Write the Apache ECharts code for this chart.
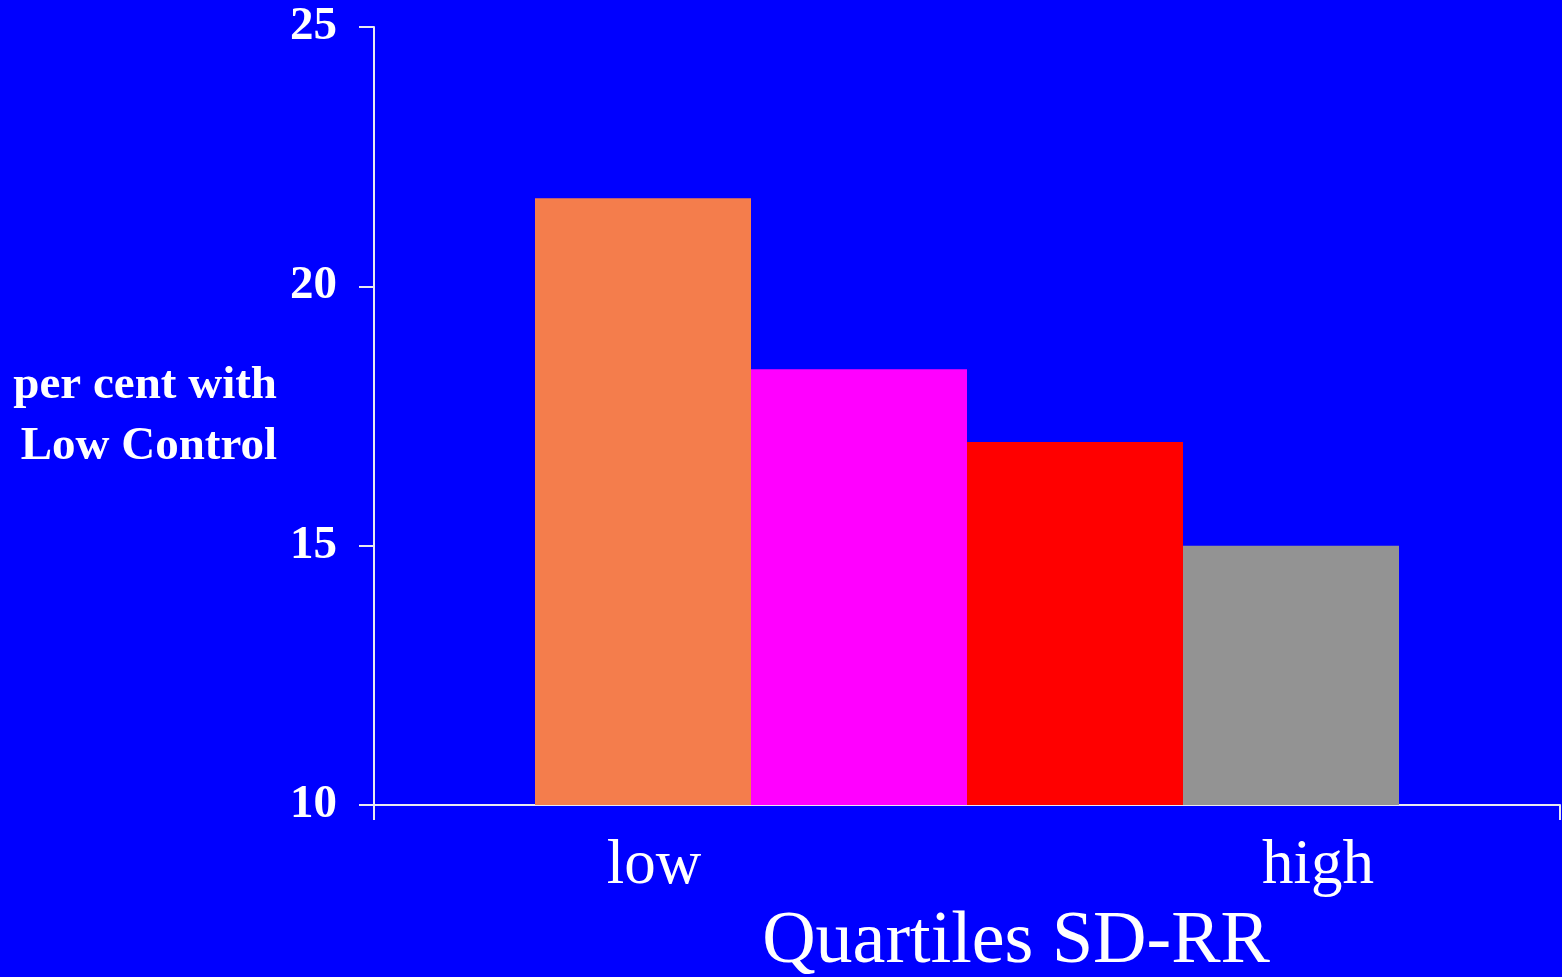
<!DOCTYPE html>
<html>
<head>
<meta charset="utf-8">
<script src="https://cdn.jsdelivr.net/npm/echarts@6/dist/echarts.min.js"></script>
<style>
html,body{margin:0;padding:0;background:#0000FF;}
#chart{width:1562px;height:977px;}
</style>
</head>
<body>
<div id="chart"></div>
<script>
var quartileNames = ['Q1', 'Q2', 'Q3', 'Q4'];
var quartileLabels = ['low', '', '', 'high'];
var quartileValues = [21.7, 18.4, 17.0, 15.0];
var barColors = ['#F47D4C', '#FF00FF', '#FF0000', '#939393'];
var yTicks = [10, 15, 20, 25];
var yAxisTitle = 'per cent with\nLow Control';
var xAxisTitle = 'Quartiles SD-RR';

var serif = "'Liberation Serif', 'Times New Roman', serif";
var chart = echarts.init(document.getElementById('chart'));
var labelShift = [11, 0, 0, 27];

var series = quartileNames.map(function (n, i) {
  return {
    name: n,
    type: 'bar',
    data: [quartileValues[i]],
    barWidth: 216,
    barGap: '0%',
    itemStyle: { color: barColors[i] },
    label: {
      show: quartileLabels[i] !== '',
      position: 'bottom',
      distance: 30,
      offset: [labelShift[i], 0],
      formatter: quartileLabels[i],
      color: '#ffffff',
      fontFamily: serif,
      fontSize: 63
    }
  };
});

chart.setOption({
  backgroundColor: '#0000FF',
  animation: false,
  grid: { left: 374, right: 2, top: 27, bottom: 172, outerBoundsMode: 'none', containLabel: false },
  xAxis: {
    type: 'category',
    data: [''],
    boundaryGap: true,
    name: xAxisTitle,
    nameLocation: 'middle',
    nameGap: 101,
    nameTextStyle: { color: '#ffffff', fontFamily: serif, fontSize: 74, padding: [0, 0, 0, 98] },
    axisLine: { lineStyle: { color: '#e8e8f0', width: 2 } },
    axisTick: { show: true, length: 15, lineStyle: { color: '#e8e8f0', width: 2 } },
    axisLabel: { show: false }
  },
  yAxis: {
    type: 'value',
    min: yTicks[0],
    max: yTicks[yTicks.length - 1],
    interval: 5,
    name: yAxisTitle,
    nameLocation: 'middle',
    nameRotate: 0,
    nameGap: 97,
    nameTextStyle: { color: '#ffffff', fontFamily: serif, fontSize: 47, fontWeight: 'bold', lineHeight: 61, align: 'right', padding: [12, 0, 0, 0] },
    splitLine: { show: false },
    axisLine: { show: true, lineStyle: { color: '#e8e8f0', width: 2 } },
    axisTick: { show: true, length: 15, lineStyle: { color: '#e8e8f0', width: 2 } },
    axisLabel: { color: '#ffffff', fontFamily: serif, fontSize: 47, fontWeight: 'bold', margin: 37 }
  },
  series: series
});
</script>
</body>
</html>
